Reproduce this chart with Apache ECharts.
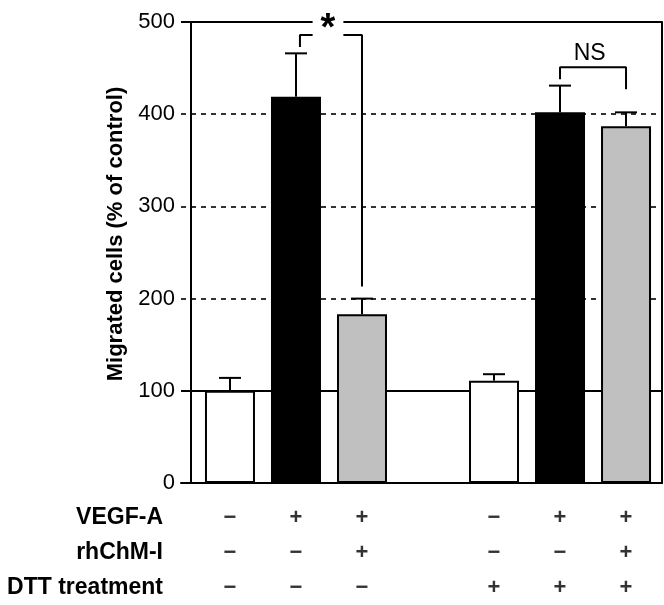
<!DOCTYPE html>
<html>
<head>
<meta charset="utf-8">
<script src="https://cdn.jsdelivr.net/npm/echarts@6/dist/echarts.min.js"></script>
<style>html,body{margin:0;padding:0;background:#fff}#c{width:664px;height:605px}</style>
</head>
<body>
<div id="c"></div>
<script>
// ---- data ----
const groups = ['Control', 'VEGF-A', 'VEGF-A + rhChM-I', 'DTT control', 'DTT VEGF-A', 'DTT VEGF-A + rhChM-I'];
const slots = [0, 1, 2, 4, 5, 6];             // category slot (slot 3 is the gap)
const means = [100, 419, 183, 111, 402, 387];
const errTop = [114, 466, 200, 118, 431, 402];
const vegf = ['−', '+', '+', '−', '+', '+'];
const rhchm = ['−', '−', '+', '−', '−', '+'];
const dtt = ['−', '−', '−', '+', '+', '+'];
const rowLabels = ['VEGF-A', 'rhChM-I', 'DTT treatment'];
const yTicks = [0, 100, 200, 300, 400, 500];
const sigBracket = [[1.06, 473], [1.06, 486], [2, 486], [2, 213]];
const nsBracket = [[5, 438], [5, 451], [6, 451], [6, 427]];
const starPos = [1.485, 500];
const nsPos = [5.45, 466];
const yName = 'Migrated cells (% of control)';

// ---- styles ----
const fills = ['#ffffff', '#000000', '#c0c0c0', '#ffffff', '#000000', '#c0c0c0'];
const FONT = '"Liberation Sans", Arial, Helvetica, sans-serif';
const xMin = -0.742, xMax = 6.545;

const chart = echarts.init(document.getElementById('c'), null, {renderer: 'canvas'});
const rows = [vegf, rhchm, dtt];
const tableData = [];
rows.forEach((r, ri) => r.forEach((s, i) => tableData.push({value: [slots[i], rowLabels[ri]], name: s})));

chart.setOption({
  animation: false,
  backgroundColor: '#fff',
  graphic: [{
    type: 'text', x: 116, y: 234, rotation: Math.PI / 2,
    style: {text: yName, font: 'bold 22px ' + FONT, fill: '#000', textAlign: 'center', textVerticalAlign: 'middle'}
  }],
  grid: [
    {left: 181, right: 2, top: 22, bottom: 122},
    {left: 181, right: 2, top: 500, height: 105}
  ],
  xAxis: [
    {type: 'value', gridIndex: 0, min: xMin, max: xMax, axisLine: {show: true, onZero: false, lineStyle: {color: '#000', width: 2}},
     axisTick: {show: false}, axisLabel: {show: false}, splitLine: {show: false}},
    {type: 'value', gridIndex: 1, min: xMin, max: xMax, show: false}
  ],
  yAxis: [
    {type: 'value', gridIndex: 0, min: yTicks[0], max: yTicks[yTicks.length - 1], interval: 100, offset: -10,
     axisLine: {show: true, onZero: false, lineStyle: {color: '#000', width: 2}}, axisTick: {show: false},
     axisLabel: {color: '#000', fontSize: 22, fontFamily: FONT, margin: 16}, splitLine: {show: false}},
    {type: 'value', gridIndex: 0, position: 'right', min: 0, max: 500,
     axisLine: {show: true, onZero: false, lineStyle: {color: '#000', width: 2}}, axisTick: {show: false}, axisLabel: {show: false}, splitLine: {show: false}},
    {type: 'category', gridIndex: 1, data: rowLabels, inverse: true,
     axisLine: {show: false}, axisTick: {show: false},
     axisLabel: {color: '#000', fontSize: 23, fontWeight: 'bold', fontFamily: FONT, margin: 18}}
  ],
  series: [
    {
      type: 'bar', xAxisIndex: 0, yAxisIndex: 0, barWidth: 50, z: 3,
      data: slots.map((s, i) => ({value: [s, means[i]], itemStyle: {color: fills[i]}})),
      itemStyle: {borderColor: '#000', borderWidth: 2},
      markLine: {
        silent: true, symbol: 'none', label: {show: false}, z: 1,
        data: [
          {yAxis: 100, lineStyle: {type: 'solid', width: 2, color: '#000'}},
          {yAxis: 200, lineStyle: {type: [5, 5], width: 1.6, color: '#000'}},
          {yAxis: 300, lineStyle: {type: [5, 5], width: 1.6, color: '#000'}},
          {yAxis: 400, lineStyle: {type: [5, 5], width: 1.6, color: '#000'}},
          {yAxis: 500, lineStyle: {type: 'solid', width: 2, color: '#000'}}
        ]
      }
    },
    {
      type: 'custom', xAxisIndex: 0, yAxisIndex: 0, z: 4,
      data: slots.map((s, i) => [s, means[i], errTop[i]]),
      renderItem: (params, api) => {
        const x = api.value(0);
        const p0 = api.coord([x, api.value(1)]);
        const p1 = api.coord([x, api.value(2)]);
        const st = {stroke: '#000', lineWidth: 2};
        return {type: 'group', children: [
          {type: 'line', shape: {x1: p0[0], y1: p0[1], x2: p1[0], y2: p1[1]}, style: st},
          {type: 'line', shape: {x1: p1[0] - 11, y1: p1[1], x2: p1[0] + 11, y2: p1[1]}, style: st}
        ]};
      }
    },
    {type: 'line', xAxisIndex: 0, yAxisIndex: 0, data: sigBracket, symbol: 'none', z: 5,
     lineStyle: {color: '#000', width: 2}},
    {type: 'line', xAxisIndex: 0, yAxisIndex: 0, data: nsBracket, symbol: 'none', z: 5,
     lineStyle: {color: '#000', width: 2}},
    {type: 'custom', xAxisIndex: 0, yAxisIndex: 0, z: 6,
     data: [[starPos[0], starPos[1], '*'], [nsPos[0], nsPos[1], 'NS']],
     renderItem: (params, api) => {
       const p = api.coord([api.value(0), api.value(1)]);
       const isStar = params.dataIndex === 0;
       const txt = isStar ? '*' : 'NS';
       return {
         type: 'text', x: p[0], y: p[1] + (isStar ? 8 : 0), z2: 10,
         style: {
           text: txt, fill: '#000', align: 'center', verticalAlign: 'middle',
           font: (isStar ? 'bold 38px ' : '23px ') + FONT,
           backgroundColor: isStar ? '#fff' : null, padding: isStar ? [0, 8, 0, 8] : 0,
           lineHeight: isStar ? 26 : 26
         }
       };
     }
    },
    {type: 'scatter', xAxisIndex: 1, yAxisIndex: 2, symbolSize: 1,
     itemStyle: {color: 'rgba(0,0,0,0)'},
     data: tableData,
     label: {show: true, position: 'inside', formatter: p => p.name, color: '#000', fontSize: 22, fontWeight: 'bold', fontFamily: FONT}
    }
  ]
});
</script>
</body>
</html>
